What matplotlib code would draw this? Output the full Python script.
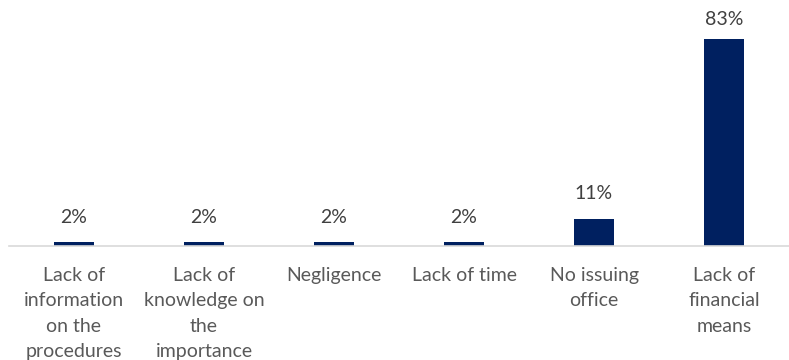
import matplotlib.pyplot as plt
import numpy as np

categories = ["Lack of\ninformation\non the\nprocedures",
              "Lack of\nknowledge on\nthe\nimportance",
              "Negligence",
              "Lack of time",
              "No issuing\noffice",
              "Lack of\nfinancial\nmeans"]
values = [1.5, 1.5, 1.5, 1.5, 11, 83]
bar_labels = ["2%", "2%", "2%", "2%", "11%", "83%"]

plt.rcParams['font.family'] = ['Lato', 'DejaVu Sans']

fig = plt.figure(figsize=(7.89, 3.6), dpi=100)
ax = fig.add_axes([9 / 789, 114 / 360, 780 / 789, 246 / 360])

x = np.arange(len(categories))
bars = ax.bar(x, values, width=0.31, color='#002060')

ymax = 98.8
# value labels above bars (top one is pushed down to stay inside the plot area)
for bar, lab in zip(bars, bar_labels):
    y = min(bar.get_height() + 10, ymax - 8)
    ax.text(bar.get_x() + bar.get_width() / 2, y, lab,
            ha='center', va='center', fontsize=14, color='#404040')

ax.set_xlim(-0.5, len(categories) - 0.5)
ax.set_ylim(0, ymax)
ax.set_xticks(x)
ax.set_xticklabels(categories, fontsize=14, color='#595959', linespacing=1.61)
ax.tick_params(axis='x', length=0, pad=15)
ax.set_yticks([])

for side in ['top', 'left', 'right']:
    ax.spines[side].set_visible(False)
ax.spines['bottom'].set_color('#d9d9d9')
ax.spines['bottom'].set_linewidth(1.2)

fig.savefig('out.png', dpi=100)
